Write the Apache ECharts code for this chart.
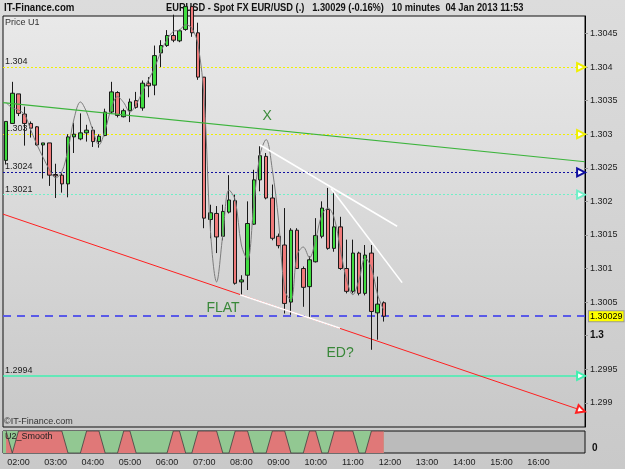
<!DOCTYPE html>
<html>
<head>
<meta charset="utf-8">
<script src="https://cdn.jsdelivr.net/npm/echarts@6/dist/echarts.min.js"></script>
<style>
  html, body { margin: 0; padding: 0; background: #d3d3d3; }
  #chart { width: 625px; height: 469px; }
</style>
</head>
<body>
<div id="chart"></div>
<script>
// EURUSD 10 minute bars 01:40 .. 11:50, [open, close, low, high]
const candles = [
  [1.30261, 1.30319, 1.30255, 1.30319],
  [1.30316, 1.30361, 1.30316, 1.30378],
  [1.30360, 1.30331, 1.30327, 1.30360],
  [1.30330, 1.30316, 1.30283, 1.30341],
  [1.30316, 1.30309, 1.30295, 1.30319],
  [1.30311, 1.30284, 1.30283, 1.30312],
  [1.30284, 1.30287, 1.30234, 1.30287],
  [1.30287, 1.30239, 1.30223, 1.30287],
  [1.30240, 1.30238, 1.30205, 1.30256],
  [1.30239, 1.30226, 1.30213, 1.30242],
  [1.30226, 1.30296, 1.30206, 1.30300],
  [1.30296, 1.30300, 1.30272, 1.30317],
  [1.30293, 1.30302, 1.30291, 1.30331],
  [1.30302, 1.30306, 1.30289, 1.30314],
  [1.30306, 1.30289, 1.30281, 1.30311],
  [1.30289, 1.30297, 1.30280, 1.30300],
  [1.30298, 1.30333, 1.30297, 1.30338],
  [1.30333, 1.30363, 1.30330, 1.30378],
  [1.30362, 1.30328, 1.30325, 1.30364],
  [1.30326, 1.30335, 1.30325, 1.30338],
  [1.30335, 1.30348, 1.30318, 1.30353],
  [1.30350, 1.30340, 1.30338, 1.30363],
  [1.30339, 1.30376, 1.30335, 1.30380],
  [1.30376, 1.30372, 1.30355, 1.30385],
  [1.30373, 1.30417, 1.30358, 1.30432],
  [1.30421, 1.30432, 1.30400, 1.30440],
  [1.30432, 1.30447, 1.30430, 1.30455],
  [1.30447, 1.30440, 1.30437, 1.30478],
  [1.30439, 1.30454, 1.30437, 1.30456],
  [1.30456, 1.30490, 1.30454, 1.30490],
  [1.30490, 1.30451, 1.30445, 1.30490],
  [1.30451, 1.30385, 1.30381, 1.30466],
  [1.30385, 1.30175, 1.30160, 1.30385],
  [1.30173, 1.30183, 1.30145, 1.30195],
  [1.30182, 1.30147, 1.30123, 1.30193],
  [1.30148, 1.30185, 1.30142, 1.30195],
  [1.30184, 1.30202, 1.30182, 1.30239],
  [1.30201, 1.30078, 1.30076, 1.30210],
  [1.30080, 1.30083, 1.30060, 1.30090],
  [1.30090, 1.30167, 1.30068, 1.30200],
  [1.30166, 1.30232, 1.30165, 1.30247],
  [1.30232, 1.30268, 1.30215, 1.30282],
  [1.30267, 1.30205, 1.30203, 1.30272],
  [1.30205, 1.30145, 1.30142, 1.30225],
  [1.30148, 1.30134, 1.30130, 1.30152],
  [1.30135, 1.30048, 1.30033, 1.30190],
  [1.30050, 1.30157, 1.30031, 1.30160],
  [1.30157, 1.30100, 1.30100, 1.30160],
  [1.30100, 1.30072, 1.30043, 1.30103],
  [1.30073, 1.30113, 1.30028, 1.30118],
  [1.30110, 1.30149, 1.30109, 1.30175],
  [1.30148, 1.30190, 1.30145, 1.30200],
  [1.30188, 1.30130, 1.30128, 1.30220],
  [1.30130, 1.30162, 1.30125, 1.30215],
  [1.30162, 1.30100, 1.30098, 1.30177],
  [1.30100, 1.30066, 1.30063, 1.30143],
  [1.30066, 1.30123, 1.30063, 1.30143],
  [1.30123, 1.30063, 1.30060, 1.30125],
  [1.30063, 1.30120, 1.30060, 1.30135],
  [1.30123, 1.30036, 1.29979, 1.30135],
  [1.30034, 1.30047, 1.29994, 1.30088],
  [1.30049, 1.30029, 1.30021, 1.30051]
]

// thin grey smoothing line drawn over the candles
const maLine = [
  1.30347, 1.30339, 1.30336, 1.30329, 1.30306, 1.30284, 1.30265, 1.30247, 1.30235, 1.30244,
  1.30277, 1.30324, 1.30348, 1.30333, 1.30306, 1.30284, 1.30306, 1.30339, 1.30356, 1.30347,
  1.30333, 1.30344, 1.30363, 1.30381, 1.30399, 1.30423, 1.30441, 1.30453, 1.30455, 1.30463,
  1.30458, 1.30433, 1.30351, 1.30157, 1.30080, 1.30150, 1.30217, 1.30202, 1.30135, 1.30113,
  1.30195, 1.30269, 1.30292, 1.30247, 1.30172, 1.30068, 1.30053, 1.30120, 1.30132, 1.30116,
  1.30143, 1.30180, 1.30190, 1.30175, 1.30128, 1.30083, 1.30061, 1.30083, 1.30116, 1.30101,
  1.30061, 1.30038
]

// U2_Smooth indicator (1 = red up to top, 0 = green down to bottom)
const u2Smooth = [
  1, 0, 1, 1, 1, 1, 1, 1, 1, 1,
  0, 0, 0, 1, 1, 1, 0, 0, 0, 1,
  1, 0, 0, 0, 0, 0, 0, 1, 1, 0,
  0, 1, 1, 1, 1, 0, 0, 1, 1, 1,
  0, 0, 0, 1, 1, 1, 0, 0, 0, 1,
  1, 0, 0, 1, 1, 1, 1, 0, 0, 1,
  1, 1
]

const hourLabels = ['02:00', '03:00', '04:00', '05:00', '06:00', '07:00', '08:00',
  '09:00', '10:00', '11:00', '12:00', '13:00', '14:00', '15:00', '16:00']

// drawn objects, x in bar index, y in price
const greenTrend = [[-0.5, 1.30347], [93.5, 1.30259]]
const redTrend = [[-0.5, 1.30181], [92.87, 1.29889]]
const whiteOnRed = [[37.79, 1.30061], [53.94, 1.30011]]
const whiteLineA = [[41.02, 1.30284], [63.15, 1.30163]]
const whiteLineB = [[52.49, 1.30219], [63.96, 1.30079]]

// horizontal levels
const levelValues = [1.304, 1.303, 1.30243, 1.3021, 1.2994]
const levelLabels = ['1.304', '1.303', '1.3024', '1.3021', '1.2994']
const levelColors = ['#f0f000', '#f0f000', '#1010a0', '#70f0c8', '#40f0b0']
const levelTypes = [[2, 2], [2, 2], [2, 2], [2, 2], 'solid']
const lastPrice = 1.30029

const notes = [[42.15, 1.30327], [35.04, 1.30041], [53.94, 1.29974]]
const noteTexts = ['X', 'FLAT', 'ED?']

// 94 ten minute slots from 01:40
const cats = []
for (let i = 0; i < 94; i++) {
  const m = 100 + i * 10
  cats.push(String(Math.floor(m / 60)).padStart(2, '0') + ':' + String(m % 60).padStart(2, '0'))
}

const FONT = '"Liberation Sans", Arial, sans-serif'
const chart = echarts.init(document.getElementById('chart'), null, { renderer: 'canvas' })

const levelLines = levelValues.map((v, i) => [
  {
    coord: [-0.5, v], symbol: 'none',
    lineStyle: { color: levelColors[i], type: levelTypes[i], width: i === 4 ? 1.5 : 1 },
    label: {
      show: true, position: 'insideStartTop', formatter: levelLabels[i],
      color: '#222', fontSize: 9, fontFamily: FONT, distance: [2, 1]
    }
  },
  { coord: [92.87, v], symbol: 'emptyTriangle' }
])

const option = {
  backgroundColor: new echarts.graphic.LinearGradient(0, 0, 0, 1, [
    { offset: 0, color: '#dcdcdc' },
    { offset: 1, color: '#c9c9c9' }
  ]),
  animation: false,
  textStyle: { fontFamily: FONT },
  grid: [
    {
      left: 3, top: 16, right: 40, bottom: 42,
      show: true, borderColor: '#111', borderWidth: 1,
      backgroundColor: new echarts.graphic.LinearGradient(0, 0, 0, 1, [
        { offset: 0, color: '#e9e9e9' },
        { offset: 1, color: '#c8c8c8' }
      ])
    },
    {
      left: 3, top: 431, right: 40, height: 22,
      show: true, borderColor: '#111', borderWidth: 1, backgroundColor: '#bbbbbb'
    }
  ],
  xAxis: [
    { type: 'category', gridIndex: 0, data: cats, boundaryGap: true, show: false },
    { type: 'value', gridIndex: 0, min: -0.5, max: 93.5, show: false },
    {
      type: 'category', gridIndex: 1, data: cats, boundaryGap: true,
      axisLine: { show: false }, axisTick: { show: false }, splitLine: { show: false },
      axisLabel: {
        interval: (i, v) => hourLabels.includes(v),
        color: '#222', fontSize: 9, margin: 5, fontFamily: FONT
      }
    },
    { type: 'value', gridIndex: 1, min: -0.5, max: 93.5, show: false }
  ],
  yAxis: [
    {
      type: 'value', gridIndex: 0, position: 'right', min: 1.29864, max: 1.30476,
      splitNumber: 12, scale: true,
      splitLine: { show: false },
      axisLine: { show: true, onZero: false, lineStyle: { color: '#000', width: 1 } },
      axisTick: { show: true, length: 3, lineStyle: { color: '#999' } },
      axisLabel: {
        color: '#222', fontSize: 9, margin: 5, fontFamily: FONT,
        showMinLabel: false, showMaxLabel: false,
        formatter: v => {
          const k = v / 0.0005
          if (Math.abs(k - Math.round(k)) > 0.01) return ''
          const s = String(+v.toFixed(4))
          return s === '1.3' ? '{b|1.3}' : s
        },
        rich: { b: { fontWeight: 'bold', fontSize: 10, color: '#111', fontFamily: FONT } }
      }
    },
    {
      type: 'value', gridIndex: 1, position: 'right', min: 0, max: 1, interval: 1,
      splitLine: { show: false }, axisLine: { show: false, onZero: false }, axisTick: { show: false },
      axisLabel: {
        formatter: v => (v === 0 ? '0' : ''), fontWeight: 'bold',
        color: '#111', fontSize: 10, margin: 7, verticalAlign: 'bottom', fontFamily: FONT
      }
    }
  ],
  series: [
    {
      name: 'EURUSD', type: 'candlestick', xAxisIndex: 0, yAxisIndex: 0,
      data: candles, barWidth: 4,
      itemStyle: {
        color: '#3fdc3f', color0: '#f07a7a',
        borderColor: '#1a1a1a', borderColor0: '#1a1a1a', borderWidth: 1
      }
    },
    {
      name: 'smooth', type: 'line', xAxisIndex: 0, yAxisIndex: 0, data: maLine,
      smooth: 0.35, symbol: 'none', lineStyle: { color: '#7c7c7c', width: 1 }, z: 3
    },
    {
      name: 'green trend', type: 'line', xAxisIndex: 1, yAxisIndex: 0, data: greenTrend,
      symbol: 'none', lineStyle: { color: '#3cb43c', width: 1.2 }, z: 4,
      markLine: {
        silent: true, animation: false, z: 2,
        data: levelLines.concat([[
          {
            coord: [-0.5, lastPrice], symbol: 'none',
            lineStyle: { color: '#5a5ae8', type: [8, 6], width: 2 },
            label: {
              show: true, position: 'end', formatter: '1.30029', distance: 4,
              color: '#000', fontSize: 9, fontFamily: FONT,
              backgroundColor: '#ffff00', borderColor: '#999', borderWidth: 1, padding: [1, 1, 0, 1]
            }
          },
          { coord: [93.5, lastPrice], symbol: 'none' }
        ], [
          { coord: redTrend[0], symbol: 'none', lineStyle: { color: '#ff2020', type: 'solid', width: 1 }, label: { show: false } },
          { coord: redTrend[1], symbol: 'emptyTriangle' }
        ]]),
        symbolSize: 8
      }
    },
    {
      name: 'white on red', type: 'line', xAxisIndex: 1, yAxisIndex: 0, data: whiteOnRed,
      symbol: 'none', lineStyle: { color: '#ffffff', width: 1.6 }, z: 4
    },
    {
      name: 'white A', type: 'line', xAxisIndex: 1, yAxisIndex: 0, data: whiteLineA,
      symbol: 'none', lineStyle: { color: '#ffffff', width: 1.6 }, z: 4
    },
    {
      name: 'white B', type: 'line', xAxisIndex: 1, yAxisIndex: 0, data: whiteLineB,
      symbol: 'none', lineStyle: { color: '#ffffff', width: 1.6 }, z: 4
    },
    {
      name: 'notes', type: 'scatter', xAxisIndex: 1, yAxisIndex: 0, data: notes,
      symbolSize: 0, z: 5,
      label: {
        show: true, position: 'inside', formatter: p => noteTexts[p.dataIndex],
        color: '#137513', fontSize: 14, fontFamily: FONT
      }
    },
    {
      name: 'u2 base', type: 'line', xAxisIndex: 3, yAxisIndex: 1,
      data: [[-0.5, 1], [u2Smooth.length - 1, 1]],
      symbol: 'none', lineStyle: { width: 0 },
      areaStyle: { color: '#92c892', opacity: 1, origin: 'start' }
    },
    {
      name: 'U2_Smooth', type: 'line', xAxisIndex: 3, yAxisIndex: 1,
      data: u2Smooth.map((v, i) => [i, v]),
      symbol: 'none', lineStyle: { color: '#404040', width: 0.8 },
      areaStyle: { color: '#e07878', opacity: 1, origin: 'start' }
    }
  ],
  graphic: [
    { type: 'text', x: 4, y: 2, scaleX: 0.88, style: { text: 'IT-Finance.com', fontSize: 11, fontWeight: 'bold', fontFamily: FONT, fill: '#111' } },
    { type: 'text', x: 166, y: 2, scaleX: 0.845, style: { text: 'EURUSD - Spot FX EUR/USD (.)   1.30029 (-0.16%)   10 minutes  04 Jan 2013 11:53', fontSize: 11, fontWeight: 'bold', fontFamily: FONT, fill: '#111' } },
    { type: 'text', left: 5, top: 18, style: { text: 'Price U1', fontSize: 9, fontFamily: FONT, fill: '#333' } },
    { type: 'text', left: 4, top: 417, style: { text: '\u00a9IT-Finance.com', fontSize: 9, fontFamily: FONT, fill: '#333' } },
    { type: 'text', left: 5, top: 432, style: { text: 'U2_Smooth', fontSize: 9, fontFamily: FONT, fill: '#222' }, z: 100 }
  ]
}

chart.setOption(option)
</script>
</body>
</html>
